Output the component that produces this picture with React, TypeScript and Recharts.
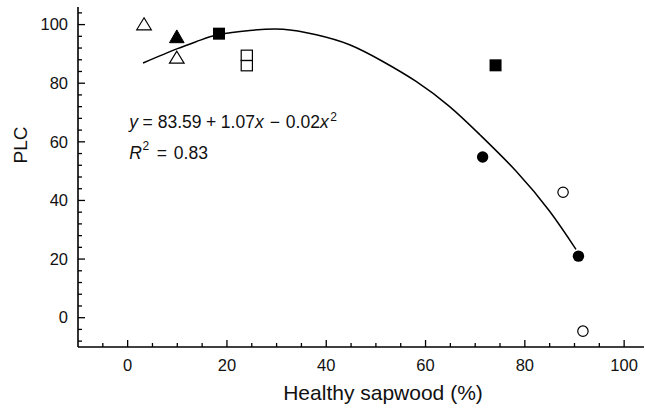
import React from 'react';
import { ComposedChart, XAxis, YAxis, Scatter, Line } from 'recharts';

const xTicks = [-5, 0, 5, 10, 15, 20, 25, 30, 35, 40, 45, 50, 55, 60, 65, 70, 75, 80, 85, 90, 95, 100];
const yTicks = [-8, -4, 0, 4, 8, 12, 16, 20, 24, 28, 32, 36, 40, 44, 48, 52, 56, 60, 64, 68, 72, 76, 80, 84, 88, 92, 96, 100, 104];

const openTriangle = [{ x: 3.3, y: 100.1 }, { x: 9.9, y: 88.7 }];
const filledTriangle = [{ x: 9.9, y: 95.8 }];
const filledSquare = [{ x: 18.4, y: 96.9 }, { x: 74.1, y: 86.1 }];
const openSquare = [{ x: 24.0, y: 89.5 }, { x: 24.0, y: 86.0 }];
const filledCircle = [{ x: 71.5, y: 54.8 }, { x: 90.8, y: 21.0 }];
const openCircle = [{ x: 87.7, y: 42.8 }, { x: 91.7, y: -4.6 }];

const curveX = [3.1, 9.9, 14.5, 18.4, 24.6, 31.3, 38.0, 44.7, 51.4, 58.1, 64.8, 70.9, 78.3, 85.0, 90.3];
const curveY = [86.9, 91.7, 94.6, 96.6, 98.0, 98.4, 96.5, 93.1, 87.4, 80.6, 72.1, 62.5, 49.9, 36.3, 23.3];
const curve = curveX.map((x, i) => ({ x, y: curveY[i] }));

const FONT = '"Liberation Sans", Arial, Helvetica, sans-serif';

const XTick = (props: any) => {
  const { x, y, payload } = props;
  const v = payload.value;
  const major = v % 20 === 0;
  return (
    <g>
      <line x1={x} x2={x} y1={y} y2={y - (major ? 7 : 4)} stroke="#000" strokeWidth={1.3} />
      {major && (
        <text x={x} y={y + 23.5} textAnchor="middle" fontFamily={FONT} fontSize={16.5} fill="#111">
          {v}
        </text>
      )}
    </g>
  );
};

const YTick = (props: any) => {
  const { x, y, payload } = props;
  const v = payload.value;
  const major = v % 20 === 0;
  return (
    <g>
      <line x1={x} x2={x + (major ? 7 : 4)} y1={y} y2={y} stroke="#000" strokeWidth={1.3} />
      {major && (
        <text x={x - 10} y={y + 5.8} textAnchor="end" fontFamily={FONT} fontSize={16.5} fill="#111">
          {v}
        </text>
      )}
    </g>
  );
};

const OpenTri = (p: any) => (
  <polygon points={`${p.cx},${p.cy - 6.5} ${p.cx + 7.3},${p.cy + 5.5} ${p.cx - 7.3},${p.cy + 5.5}`} fill="#fff" stroke="#000" strokeWidth={1.2} />
);
const FillTri = (p: any) => (
  <polygon points={`${p.cx},${p.cy - 7} ${p.cx + 7.3},${p.cy + 5.8} ${p.cx - 7.3},${p.cy + 5.8}`} fill="#000" stroke="#000" strokeWidth={1} />
);
const FillSq = (p: any) => <rect x={p.cx - 6} y={p.cy - 6} width={12} height={12} fill="#000" />;
const OpenSq = (p: any) => (
  <rect x={p.cx - 5.6} y={p.cy - 5.2} width={11.2} height={10.4} fill="#fff" fillOpacity={0} stroke="#000" strokeWidth={1.2} />
);
const FillCirc = (p: any) => <circle cx={p.cx} cy={p.cy} r={5.7} fill="#000" />;
const OpenCirc = (p: any) => <circle cx={p.cx} cy={p.cy} r={5.2} fill="#fff" stroke="#000" strokeWidth={1.2} />;

export default function App() {
  return (
    <div style={{ position: 'absolute', left: 0, top: 0, width: 645, height: 408, background: '#fff' }}>
      <ComposedChart width={645} height={408} margin={{ top: 7, right: 1, bottom: 0, left: 0 }}>
        <XAxis
          type="number"
          dataKey="x"
          domain={[-10, 104]}
          ticks={xTicks}
          interval={0}
          height={61}
          tickSize={0}
          tickMargin={0}
          tickLine={false}
          axisLine={{ stroke: '#000', strokeWidth: 1.6 }}
          tick={<XTick />}
          allowDataOverflow
        />
        <YAxis
          type="number"
          dataKey="y"
          domain={[-10, 106]}
          ticks={yTicks}
          interval={0}
          width={78}
          tickSize={0}
          tickMargin={0}
          tickLine={false}
          axisLine={{ stroke: '#000', strokeWidth: 1.6 }}
          tick={<YTick />}
          allowDataOverflow
        />
        <Line data={curve} dataKey="y" type="natural" stroke="#000" strokeWidth={1.5} dot={false} activeDot={false} isAnimationActive={false} />
        <Scatter data={openTriangle} dataKey="y" shape={OpenTri} isAnimationActive={false} />
        <Scatter data={filledTriangle} dataKey="y" shape={FillTri} isAnimationActive={false} />
        <Scatter data={filledSquare} dataKey="y" shape={FillSq} isAnimationActive={false} />
        <Scatter data={openSquare} dataKey="y" shape={OpenSq} isAnimationActive={false} />
        <Scatter data={filledCircle} dataKey="y" shape={FillCirc} isAnimationActive={false} />
        <Scatter data={openCircle} dataKey="y" shape={OpenCirc} isAnimationActive={false} />
      </ComposedChart>
      <svg width={645} height={408} style={{ position: 'absolute', left: 0, top: 0, pointerEvents: 'none' }}>
        <g fontFamily={FONT} fill="#111">
          <text x={383} y={400} textAnchor="middle" fontSize={21}>Healthy sapwood (%)</text>
          <text transform="translate(27,145) rotate(-90)" textAnchor="middle" fontSize={19}>PLC</text>
          <text x={129.3} y={127.7} fontSize={17.5}>
            <tspan fontStyle="italic">y</tspan>
            <tspan dx={4.5}>=</tspan>
            <tspan dx={5}>83.59</tspan>
            <tspan dx={4.5}>+</tspan>
            <tspan dx={4.5}>1.07</tspan>
            <tspan fontStyle="italic">x</tspan>
            <tspan dx={6}>−</tspan>
            <tspan dx={6}>0.02</tspan>
            <tspan fontStyle="italic">x</tspan>
            <tspan dx={1.5} dy={-7} fontSize={12}>2</tspan>
          </text>
          <text x={129.3} y={159} fontSize={17.5}>
            <tspan fontStyle="italic">R</tspan>
            <tspan dx={0.5} dy={-9} fontSize={12}>2</tspan>
            <tspan dx={7.5} dy={9}>=</tspan>
            <tspan dx={7}>0.83</tspan>
          </text>
        </g>
      </svg>
    </div>
  );
}
